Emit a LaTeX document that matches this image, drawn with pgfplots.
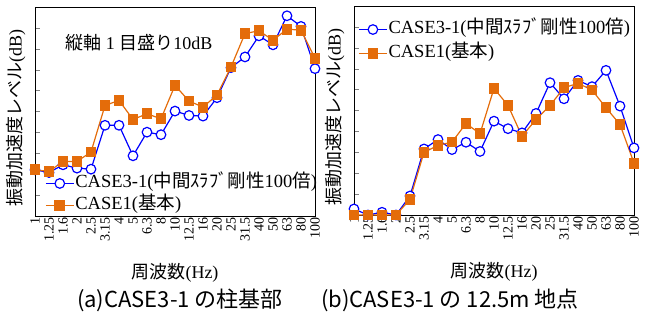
\documentclass[border=0pt]{standalone}
\usepackage{fontspec}
\setmainfont{Liberation Serif}
\newfontfamily\cjk{Noto Sans CJK JP}
\usepackage{pgfplots}
\pgfplotsset{compat=1.18}
\definecolor{cblue}{RGB}{0,0,255}
\definecolor{corange}{RGB}{228,108,10}
\pgfplotsset{
  myaxis/.style={
    scale only axis, width=280pt, height=209pt,
    xmin=0, xmax=20, ymin=0, ymax=100,
    xtick={0,...,20},
    xticklabels={1,1.25,1.6,2,2.5,3.15,4,5,6.3,8,10,12.5,16,20,25,31.5,40,50,63,80,100},
    xticklabel style={rotate=90, anchor=east, font=\fontsize{14}{14}\selectfont, inner sep=1pt},
    major x tick style={draw=none},
    ytick={0,10,...,90},
    yticklabels={},
    ytick pos=left, tick align=inside, major tick length=5pt,
    clip=false,
    axis line style={line width=0.8pt},
    xlabel={{\cjk 周波数}(Hz)},
    ylabel={{\cjk 振動加速度レベル}(dB)},
    label style={font=\fontsize{18}{18}\selectfont},
    ylabel style={at={(rel axis cs:-0.068,0.47)}, anchor=center},
    xlabel style={at={(rel axis cs:0.5,0)}, yshift=-57pt, anchor=center},
    legend cell align=left,
    legend image code/.code={\draw[mark repeat=2,mark phase=2,##1] plot coordinates {(0pt,0pt)(14pt,0pt)(28pt,0pt)};},
  },
  sb/.style={color=cblue, line width=1.2pt, mark=*, mark size=4.8pt, mark options={fill=white, draw=cblue, line width=1.2pt}},
  so/.style={color=corange, line width=1.2pt, mark=square*, mark size=4.8pt, mark options={fill=corange, draw=corange}},
}
\begin{document}
\begin{tikzpicture}
\path[use as bounding box] (0,0) rectangle (652pt,320pt);
\begin{axis}[myaxis, at={(35pt,104pt)}, anchor=south west,
  legend style={draw=none, fill=none, at={(rel axis cs:0.025,0.103)}, anchor=west,
    font=\fontsize{18.5}{18.5}\selectfont, row sep=4pt,
    nodes={inner sep=1pt, text height=12pt, text depth=4pt}}]
\addplot[sb] coordinates {(0,22.1)(1,20.8)(2,24.5)(3,22.9)(4,22.4)(5,43.4)(6,43.4)(7,28.8)(8,40.1)(9,38.9)(10,50.2)(11,48.1)(12,47.8)(13,56.6)(14,71.0)(15,76.1)(16,86.2)(17,81.9)(18,95.8)(19,90.7)(20,70.5)};
\addlegendentry{CASE3-1({\cjk 中間ｽﾗﾌﾞ剛性}100{\cjk 倍})}
\addplot[so] coordinates {(0,22.1)(1,21.3)(2,26.1)(3,26.1)(4,30.6)(5,52.9)(6,55.3)(7,46.2)(8,48.9)(9,46.5)(10,62.5)(11,55.0)(12,52.1)(13,57.9)(14,71.3)(15,87.3)(16,88.6)(17,84.1)(18,89.4)(19,88.9)(20,75.5)};
\addlegendentry{CASE1({\cjk 基本})}
\node[font=\fontsize{18}{18}\selectfont] at (rel axis cs:0.371,0.828) {{\cjk 縦軸} 1 {\cjk 目盛り}10dB};
\end{axis}
\begin{axis}[myaxis, at={(354pt,105pt)}, anchor=south west,
  legend style={draw=none, fill=none, at={(rel axis cs:0.004,0.83)}, anchor=west,
    font=\fontsize{18.5}{18.5}\selectfont, row sep=6pt,
    nodes={inner sep=1pt, text height=12pt, text depth=4pt}}]
\addplot[sb] coordinates {(0,2.9)(1,0)(2,1.3)(3,0)(4,9.1)(5,31.6)(6,36.1)(7,31.3)(8,34.8)(9,30.4)(10,44.9)(11,41.3)(12,39.3)(13,48.6)(14,63.3)(15,55.6)(16,64.4)(17,61.4)(18,69.2)(19,52.1)(20,32.1)};
\addlegendentry{CASE3-1({\cjk 中間ｽﾗﾌﾞ剛性}100{\cjk 倍})}
\addplot[so] coordinates {(0,0)(1,0)(2,0)(3,0)(4,7.5)(5,30.0)(6,33.3)(7,34.9)(8,43.8)(9,38.9)(10,60.6)(11,52.4)(12,37.7)(13,45.7)(14,52.4)(15,60.9)(16,63.0)(17,59.8)(18,51.3)(19,43.3)(20,24.8)};
\addlegendentry{CASE1({\cjk 基本})}
\end{axis}
\node[font=\cjk\fontsize{22}{22}\selectfont] at (180pt,20pt) {(a)CASE3-1 の柱基部};
\node[font=\cjk\fontsize{22}{22}\selectfont] at (450pt,20pt) {(b)CASE3-1 の 12.5m 地点};
\end{tikzpicture}
\end{document}
